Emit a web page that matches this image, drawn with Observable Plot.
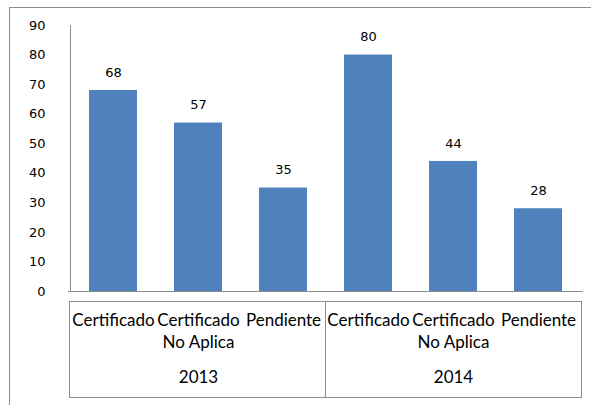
<!DOCTYPE html>
<html>
<head>
<meta charset="utf-8">
<script src="https://cdn.jsdelivr.net/npm/d3@7"></script>
<script src="https://cdn.jsdelivr.net/npm/@observablehq/plot@0.6"></script>
<style>
  html, body { margin: 0; padding: 0; background: #fff; overflow: hidden; width: 591px; height: 405px; }
  #wrap { position: relative; width: 591px; height: 405px; }
  #border { position: absolute; left: 9px; top: 7px; width: 700px; height: 500px; border: 1px solid #8c8c8c; box-sizing: border-box; }
  #chart { position: absolute; left: 0; top: 0; }
</style>
</head>
<body>
<div id="wrap"><div id="border"></div><div id="chart"></div></div>
<script>
const years = ["2013", "2014"];
const categories = ["Certificado", "Certificado\nNo Aplica", "Pendiente"];
const values2013 = [68, 57, 35];
const values2014 = [80, 44, 28];
const yTicks = [0, 10, 20, 30, 40, 50, 60, 70, 80, 90];

const seriesByYear = { "2013": values2013, "2014": values2014 };
const data = years.flatMap(yr => categories.map((c, i) => ({ year: yr, cat: c, key: yr + "|" + c, value: seriesByYear[yr][i] })));
const yearLabels = years.map(yr => ({ year: yr, key: yr + "|" + categories[1] }));

const numFont = "DejaVu Sans, Verdana, sans-serif";
const catFont = "Lato, 'Open Sans', sans-serif";

const plot = Plot.plot({
  width: 591,
  height: 405,
  marginLeft: 68,
  marginRight: 8,
  marginTop: 25,
  marginBottom: 114,
  style: { background: "transparent", color: "#000", overflow: "visible" },
  x: { domain: data.map(d => d.key), paddingInner: 0.44, paddingOuter: 0.22, label: null },
  y: { domain: [0, 90], label: null },
  marks: [
    Plot.barY(data, { x: "key", y: "value", fill: "#4f81bd" }),
    Plot.text(data, { x: "key", y: "value", text: d => String(d.value), dy: -18, fontSize: 13, fontFamily: numFont, fill: "#000" }),
    Plot.axisY({ ticks: yTicks, tickSize: 0, tickPadding: 23, fontSize: 13, fontFamily: numFont, fill: "#000", label: null }),
    Plot.axisX({ tickSize: 0, tickPadding: 19, fontSize: 17, fontFamily: catFont, lineHeight: 1.3, fill: "#000", tickFormat: d => d.split("|")[1], label: null }),
    Plot.text(yearLabels, { x: "key", text: "year", frameAnchor: "bottom", dy: 91, fontSize: 17, fontFamily: catFont, fill: "#000" }),
    Plot.ruleY([0], { stroke: "#8c8c8c" })
  ]
});

document.getElementById("chart").appendChild(plot);

// Axis line and category table, positioned from the plot's own scales
const xs = plot.scale("x");
const ys = plot.scale("y");
const svg = d3.select(plot);
const edge = (key, side) => xs.apply(key) + xs.bandwidth / 2 + side * xs.step / 2;
const left = edge(data[0].key, -1);
const right = edge(data[data.length - 1].key, 1);
const y0 = ys.apply(0);
const yTop = ys.apply(90);
const g = svg.append("g").attr("stroke", "#8c8c8c").attr("stroke-width", 1).attr("shape-rendering", "crispEdges");
g.append("line").attr("x1", left).attr("x2", left).attr("y1", yTop).attr("y2", y0);
const tTop = y0 + 10, tBot = y0 + 106;
g.append("rect").attr("x", left - 1).attr("y", tTop).attr("width", right - left + 2).attr("height", tBot - tTop).attr("fill", "none");
years.slice(1).forEach(yr => {
  const xk = edge(yr + "|" + categories[0], -1);
  g.append("line").attr("x1", xk).attr("x2", xk).attr("y1", tTop).attr("y2", tBot);
});
</script>
</body>
</html>
